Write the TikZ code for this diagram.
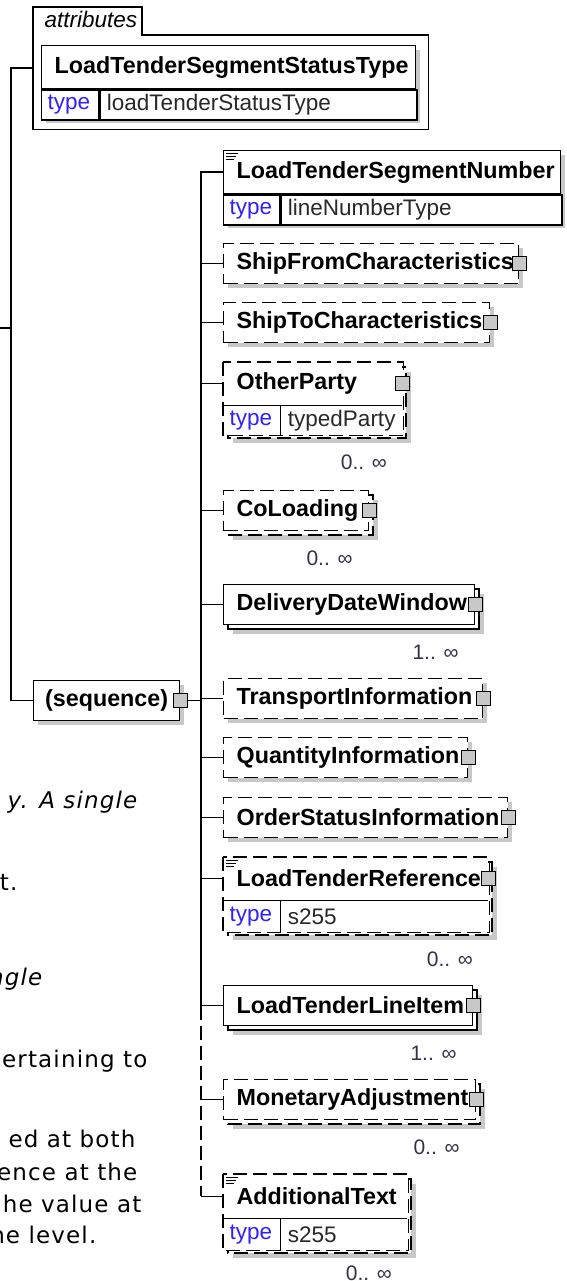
\documentclass[tikz,border=0pt]{standalone}
\usepackage{fontspec}
\setmainfont{Liberation Sans}
\newfontfamily\notefont[LetterSpace=5]{DejaVu Sans}
\usetikzlibrary{positioning}

\definecolor{shadowgray}{RGB}{200,200,200}
\definecolor{typeblue}{RGB}{48,32,255}
\definecolor{valgray}{RGB}{40,40,40}
\definecolor{multgray}{RGB}{50,50,70}
\newcommand\elemfont{\fontsize{22.5}{24}\selectfont}
\newcommand\namefont{\fontsize{23.3}{25}\selectfont\bfseries}

\begin{document}
\begin{tikzpicture}[x=1pt,y=-1pt,line width=1.3pt,
    elem/.style={draw,fill=white,anchor=north west,inner sep=0pt,font=\namefont},
    opt/.style={dash pattern=on 14pt off 6pt},
    typekey/.style={fill=white,anchor=north west,inner sep=0pt,font=\elemfont,text=typeblue},
    typeval/.style={fill=white,anchor=north west,inner sep=0pt,font=\elemfont,text=valgray},
    mult/.style={inner sep=0pt,font=\fontsize{21}{23}\selectfont,text=multgray},
    note/.style={anchor=base east,inner sep=0pt,font=\notefont\fontsize{23}{25}\selectfont}]
    \tikzstyle{expand}=[draw,solid,fill=shadowgray,minimum size=14pt,inner sep=0pt]
    \useasboundingbox (0,0) rectangle (566,1281);
    \clip (0,0) rectangle (566,1281);

    \coordinate (root) at (0,328);
    \coordinate (lbus) at (11,0);
    \coordinate (bus) at (201,0);

    % attributes group
    \node[anchor=north west,minimum width=394pt,minimum height=121pt,inner sep=0pt] (attrs) at (33,7) {};
    \draw[fill=white] (attrs.south west) -- (attrs.north west) -- (142,7) -- (142,35)
      -- (attrs.east |- 0,35) -- (attrs.south east) -- cycle;
    \node[anchor=base west,inner sep=0pt,font=\elemfont\itshape] (attrs-tab) at (44,28) {attributes};
    \fill[shadowgray] (46,50) rectangle (420,123);
    \node[elem,minimum height=43pt] (statname) at (41,45) {\makebox[374pt][l]{\hspace{13pt}LoadTenderSegmentStatusType}};
    \node[typekey,draw,minimum height=30pt] (statname-k) at (statname.south west) {\makebox[57pt][l]{\hspace{6pt}type}};
    \node[typeval,draw,minimum height=30pt] (statname-v) at (statname-k.north east) {\makebox[317pt][l]{\hspace{7pt}loadTenderStatusType}};

    % sequence
    \fill[shadowgray] (38,685) rectangle (184,725);
    \node[elem,minimum width=146pt,minimum height=40pt] (seq) at (33,680) {(sequence)};
    \node[expand] (seq-x) at (seq.east) {};
    \draw (attrs.west) -- (attrs.west -| lbus) -- (seq.west -| lbus) -- (seq.west);
    \draw (root) -- (root -| lbus);
    \draw (seq-x) -- (seq-x -| bus);

    % LoadTenderSegmentNumber
    \fill[shadowgray] (228,155) rectangle (565,228);
    \node[elem,minimum height=43pt] (segnum) at (223,150) {\makebox[337pt][l]{\hspace{13pt}LoadTenderSegmentNumber}};
    \node[typekey,draw,minimum height=30pt] (segnum-k) at (segnum.south west) {\makebox[56pt][l]{\hspace{6pt}type}};
    \node[typeval,draw,minimum height=30pt] (segnum-v) at (segnum-k.north east) {\makebox[281pt][l]{\hspace{7pt}lineNumberType}};

    % OtherParty
    \fill[shadowgray] (233,372) rectangle (411,443);
    \draw[opt,fill=white] (228,367) rectangle (406,438);
    \node[elem,draw=none,minimum height=42pt] (party) at (223,362) {\makebox[178pt][l]{\hspace{13pt}OtherParty}};
    \node[typekey,minimum height=29pt] (party-k) at (party.south west) {\makebox[56pt][l]{\hspace{6pt}type}};
    \node[typeval,minimum height=29pt] (party-v) at (party-k.north east) {\makebox[122pt][l]{\hspace{7pt}typedParty}};
    \draw[opt] (party.north west) rectangle (party-v.south east);
    \draw (party.south west) -- (party.south east) (party-k.north east) -- (party-k.south east);
    \node[expand] (party-x) at (party.east) {};
    \draw (party.west -| bus) -- (party.west);

    % LoadTenderReference
    \fill[shadowgray] (233,867) rectangle (497,940);
    \draw[opt,fill=white] (228,862) rectangle (492,935);
    \node[elem,draw=none,minimum height=42pt] (reference) at (223,857) {\makebox[264pt][l]{\hspace{13pt}LoadTenderReference}};
    \node[typekey,minimum height=31pt] (reference-k) at (reference.south west) {\makebox[56pt][l]{\hspace{6pt}type}};
    \node[typeval,minimum height=31pt] (reference-v) at (reference-k.north east) {\makebox[208pt][l]{\hspace{7pt}s255}};
    \draw[opt] (reference.north west) rectangle (reference-v.south east);
    \draw (reference.south west) -- (reference.south east) (reference-k.north east) -- (reference-k.south east);
    \node[expand] (reference-x) at (reference.east) {};
    \draw (reference.west -| bus) -- (reference.west);

    % AdditionalText
    \fill[shadowgray] (233,1184) rectangle (416,1258);
    \draw[opt,fill=white] (228,1179) rectangle (411,1253);
    \node[elem,draw=none,minimum height=43pt] (addtext) at (223,1174) {\makebox[183pt][l]{\hspace{13pt}AdditionalText}};
    \node[typekey,minimum height=31pt] (addtext-k) at (addtext.south west) {\makebox[56pt][l]{\hspace{6pt}type}};
    \node[typeval,minimum height=31pt] (addtext-v) at (addtext-k.north east) {\makebox[127pt][l]{\hspace{7pt}s255}};
    \draw[opt] (addtext.north west) rectangle (addtext-v.south east);
    \draw (addtext.south west) -- (addtext.south east) (addtext-k.north east) -- (addtext-k.south east);

    % plain child elements
    \foreach \nm/\txt/\ya/\xb/\sty/\st in {
        shipfrom/ShipFromCharacteristics/243/518/opt/0,
        shipto/ShipToCharacteristics/302/489/opt/0,
        coload/CoLoading/490/368/opt/1,
        delivery/DeliveryDateWindow/584/474/solid/1,
        transport/TransportInformation/678/482/opt/0,
        quantity/QuantityInformation/737/467/opt/0,
        orderstat/OrderStatusInformation/797/507/opt/0,
        lineitem/LoadTenderLineItem/985/472/solid/1,
        monetary/MonetaryAdjustment/1079/475/opt/1}
    {
      \pgfmathsetmacro\boxw{\xb-223}
      \ifnum\st=1
        \fill[shadowgray] (233,\ya+10) rectangle (\xb+10,\ya+50);
        \draw[\sty,fill=white] (228,\ya+5) rectangle (\xb+5,\ya+45);
      \else
        \fill[shadowgray] (228,\ya+5) rectangle (\xb+5,\ya+45);
      \fi
      \node[elem,\sty,minimum height=40pt] (\nm) at (223,\ya) {\makebox[\boxw pt][l]{\hspace{13pt}\txt}};
      \node[expand] (\nm-x) at (\nm.east) {};
      \draw (\nm.west -| bus) -- (\nm.west);
    }

    % documentation marks
    \foreach \y in {153,860,1177}
      \draw[line width=0.9pt] (226,\y) -- +(12,0) (226,\y+3) -- +(10,0) (226,\y+6) -- +(8,0);

    % child bus
    \draw (segnum.west) -- (segnum.west -| bus) -- (lineitem.west -| bus);
    \draw[opt] (lineitem.west -| bus) -- (addtext.west -| bus);
    \draw (addtext.west -| bus) -- (addtext.west);

    % occurrences
    \node[mult,below left=19pt and 16pt of party-v.south east] (party-m) {0.. ∞};
    \node[mult,below left=19pt and 16pt of coload.south east] (coload-m) {0.. ∞};
    \node[mult,below left=19pt and 16pt of delivery.south east] (delivery-m) {1.. ∞};
    \node[mult,below left=19pt and 16pt of reference-v.south east] (reference-m) {0.. ∞};
    \node[mult,below left=19pt and 16pt of lineitem.south east] (lineitem-m) {1.. ∞};
    \node[mult,below left=19pt and 16pt of monetary.south east] (monetary-m) {0.. ∞};
    \node[mult,below left=15pt and 16pt of addtext-v.south east] (addtext-m) {0.. ∞};

    % clipped page text
    \node[note] (note1) at (138,808) {\itshape y. A single};
    \node[note] (note2) at (18,890) {t.};
    \node[note] (note3) at (43,985) {\itshape ngle};
    \node[note] (note4) at (148,1067) {ertaining to};
    \node[note] (note5) at (136,1147) {ed at both};
    \node[note] (note6) at (138,1180) {ence at the};
    \node[note] (note7) at (142,1212) {he value at};
    \node[note] (note8) at (97,1243) {he level.};
\end{tikzpicture}
\end{document}
